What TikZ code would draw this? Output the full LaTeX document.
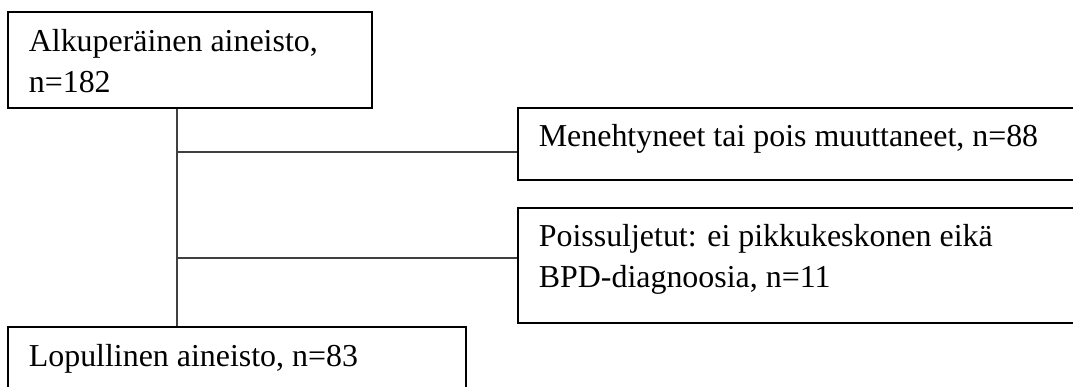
\documentclass[tikz,border=0pt]{standalone}
\usepackage{fontspec}
\setmainfont{Liberation Serif}
\usetikzlibrary{fit,calc}
\begin{document}
\begin{tikzpicture}[x=0.376pt, y=-0.376pt,
    frame/.style={draw=black, line width=0.5pt, inner sep=0pt},
    boxtext/.style={anchor=base west, align=left, inner sep=0pt, font=\fontsize{12}{15.4}\selectfont},
    link/.style={draw=black!75, line width=0.5pt}]
    \useasboundingbox (0,0) rectangle (1073,387);

    % Laatikot
    \node[frame, fit={(8,12) (372,108)}] (orig) {};
    \node[frame, fit={(518,108) (1080,180)}] (dead) {};
    \node[frame, fit={(518,208) (1080,323)}] (excl) {};
    \node[frame, fit={(8,327) (466,400)}] (final) {};

    % Tekstit (base = viimeisen rivin perusviiva)
    \node[boxtext] (origtext) at ($(orig.north west)+(21,81)$) {Alkuperäinen aineisto,\\n=182};
    \node[boxtext] (deadtext) at ($(dead.north west)+(21,39)$) {Menehtyneet tai pois muuttaneet, n=88};
    \node[boxtext] (excltext) at ($(excl.north west)+(21,80)$) {Poissuljetut: ei pikkukeskonen eikä\\BPD-diagnoosia, n=11};
    \node[boxtext] (finaltext) at ($(final.north west)+(21,40)$) {Lopullinen aineisto, n=83};

    % Yhteydet
    \coordinate (trunk) at (177,0);
    \coordinate (split1) at (177,152);
    \coordinate (split2) at (177,258);
    \draw[link] (orig.south -| trunk) -- (final.north -| trunk);
    \draw[link] (split1) -- (split1 -| dead.west);
    \draw[link] (split2) -- (split2 -| excl.west);
\end{tikzpicture}
\end{document}
